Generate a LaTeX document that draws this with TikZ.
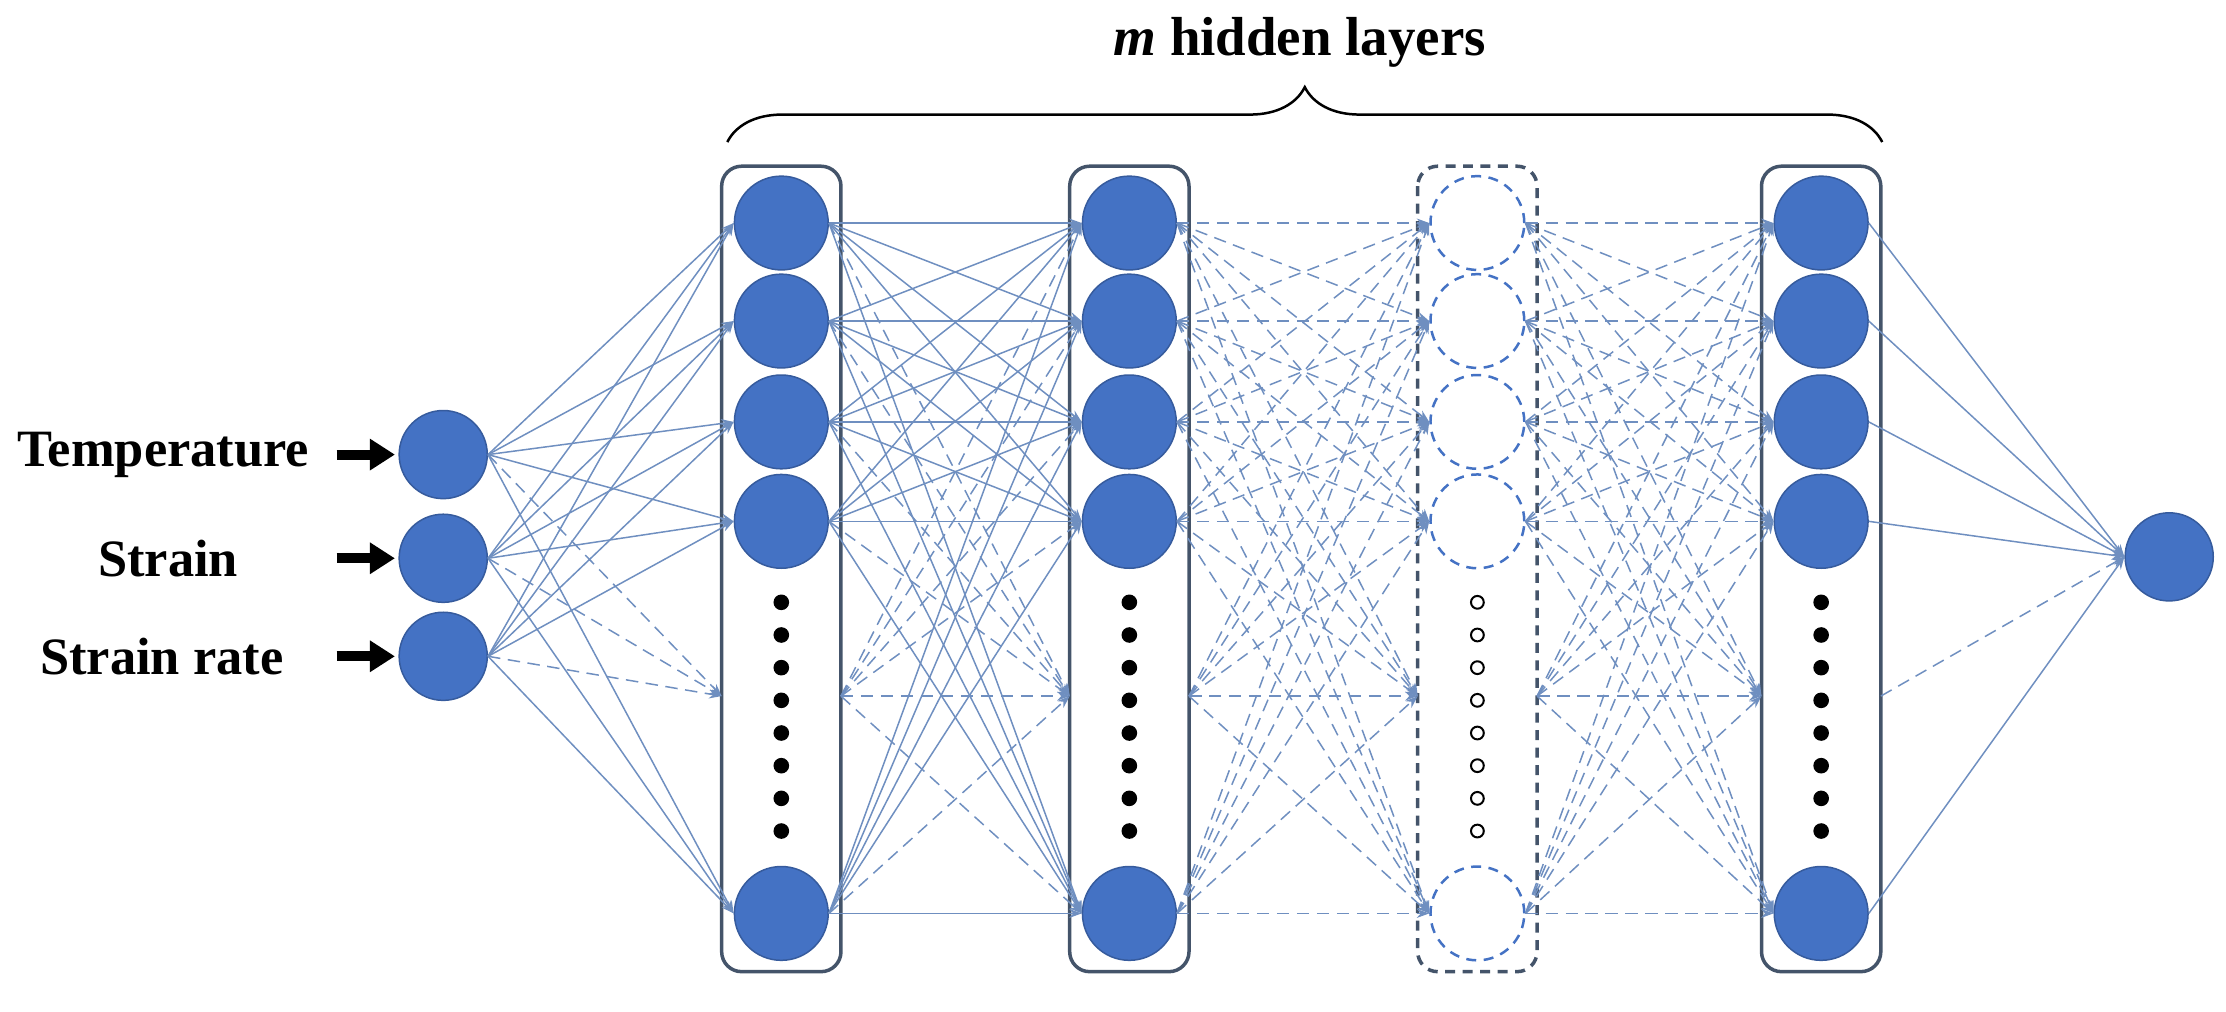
\documentclass[tikz,border=0pt]{standalone}
\usepackage{fontspec}
\setmainfont{Liberation Serif}
\usetikzlibrary{arrows.meta,decorations.pathreplacing}
\definecolor{nblue}{HTML}{4472C4}
\definecolor{ecol}{HTML}{6F8FC0}
\definecolor{bcol}{HTML}{44546A}
\begin{document}
\begin{tikzpicture}[x=0.01cm,y=-0.01cm,
  neuron/.style={circle,fill=nblue,draw=nblue!80!black,line width=0.3pt,minimum size=0.66cm,inner sep=0},
  hollow/.style={circle,fill=white,draw=nblue,dash pattern=on 2pt off 1.5pt,line width=0.5pt,minimum size=0.66cm,inner sep=0},
  bdot/.style={circle,fill=black,minimum size=0.11cm,inner sep=0},
  hdot/.style={circle,fill=white,draw=black,line width=0.4pt,minimum size=0.09cm,inner sep=0},
  layerbox/.style={draw=bcol,line width=0.7pt,rounded corners=4pt},
  conn/.style={draw=ecol,line width=0.3pt,-{Stealth[length=2.5pt,width=1.8pt]}},
  dconn/.style={conn,dash pattern=on 2.5pt off 1.5pt},
  lbl/.style={font=\bfseries\fontsize{10.5}{13}\selectfont,anchor=east}]
\useasboundingbox (0,0) rectangle (1567,712);
% boxes
\foreach \n/\x in {a/550,b/795,d/1282}{
  \draw[layerbox] (\x-42,117) rectangle (\x+42,684);}
\draw[layerbox,dash pattern=on 2pt off 1.5pt] (1040-42,117) rectangle (1040+42,684);
% input nodes
\foreach \i/\y in {1/320,2/393,3/462}{\node[neuron,minimum size=0.62cm] (i\i) at (312,\y) {};}
\node[lbl] (t1) at (230,320) {Temperature};
\node[lbl] (t2) at (180,393) {Strain};
\node[lbl] (t3) at (212,462) {Strain rate};
\foreach \i/\y in {1/320,2/393,3/462}{
  \coordinate (as\i) at (237,\y); \coordinate (ae\i) at (278,\y);
  \draw[line width=2pt,-{Triangle[length=5pt,width=6pt]}] (as\i) -- (ae\i);}
% layers
\foreach \L/\x in {a/550,b/795,d/1282}{
  \foreach \j/\y in {1/157,2/226,3/297,4/367,5/643}{\node[neuron] (\L\j) at (\x,\y) {};}
  \foreach \k in {0,...,7}{\node[bdot] (\L d\k) at (\x,424+\k*23) {};}
  \coordinate (\L W) at (\x-42,490); \coordinate (\L E) at (\x+42,490);}
\foreach \j/\y in {1/157,2/226,3/297,4/367,5/643}{\node[hollow] (c\j) at (1040,\y) {};}
\foreach \k in {0,...,7}{\node[hdot] (cd\k) at (1040,424+\k*23) {};}
\coordinate (cW) at (1040-42,490); \coordinate (cE) at (1040+42,490);
\node[neuron,minimum size=0.62cm] (o) at (1527,392) {};
% input -> layer a
\foreach \i in {1,2,3}{
  \foreach \j in {1,...,5}{\draw[conn] (i\i.east) -- (a\j.west);}
  \draw[dconn] (i\i.east) -- (aW);}
% layer connections
\foreach \s/\t/\st in {a/b/conn,b/c/dconn,c/d/dconn}{
  \foreach \i in {1,...,5}{
    \foreach \j in {1,...,5}{\draw[\st] (\s\i.east) -- (\t\j.west);}
    \draw[dconn] (\s\i.east) -- (\t W);
    \draw[dconn] (\s E) -- (\t\i.west);}
  \draw[dconn] (\s E) -- (\t W);}
% layer d -> output
\foreach \i in {1,...,5}{\draw[conn] (d\i.east) -- (o.west);}
\draw[dconn] (dE) -- (o.west);
% brace
\coordinate (br1) at (512,100); \coordinate (br2) at (1325,100);
\draw[line width=0.5pt,decorate,decoration={brace,amplitude=11pt}] (br1) -- (br2);
\node[font=\bfseries\fontsize{11}{13}\selectfont] (mh) at (915,30) {\textit{m} hidden layers};
\end{tikzpicture}
\end{document}
